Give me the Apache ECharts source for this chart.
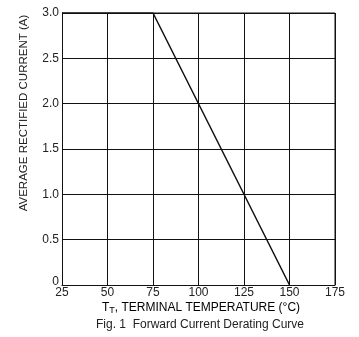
<!DOCTYPE html>
<html><head><meta charset="utf-8">
<script src="https://cdn.jsdelivr.net/npm/echarts@6/dist/echarts.min.js"></script>
<style>html,body{margin:0;padding:0;background:#fff}#c{width:359px;height:337px}</style>
</head><body><div id="c"></div>
<script>
const temperature = [25, 75, 150];
const current = [3.0, 3.0, 0];
const xTicks = [25, 50, 75, 100, 125, 150, 175];
const yTicks = ['0', '0.5', '1.0', '1.5', '2.0', '2.5', '3.0'];

const FONT = 'Liberation Sans';
const chart = echarts.init(document.getElementById('c'));
chart.setOption({
  animation: false,
  grid: { left: 62, right: 24, top: 13, bottom: 52 },
  xAxis: {
    type: 'value', min: 25, max: 175, interval: 25,
    axisLine: { show: true, lineStyle: { color: '#111', width: 1 } },
    axisTick: { show: false },
    axisLabel: { color: '#222', fontFamily: FONT, fontSize: 12, margin: 2,
      formatter: v => xTicks.includes(v) ? String(v) : '' },
    splitLine: { show: true, lineStyle: { color: '#111', width: 1 } }
  },
  yAxis: {
    type: 'value', min: 0, max: 3, interval: 0.5,
    axisLine: { show: true, lineStyle: { color: '#111', width: 1 } },
    axisTick: { show: false },
    axisLabel: { color: '#222', fontFamily: FONT, fontSize: 12, margin: 3,
      formatter: v => { const t = yTicks[Math.round(v * 2)]; return v === 0 ? '{z|' + t + '}' : t; },
      rich: { z: { fontSize: 12, fontFamily: FONT, color: '#222', padding: [0, 0, 7, 0] } } },
    splitLine: { show: true, lineStyle: { color: '#111', width: 1 } }
  },
  series: [{
    type: 'line',
    data: temperature.map((t, i) => [t, current[i]]),
    symbol: 'none',
    lineStyle: { color: '#111', width: 1.5 }
  }],
  graphic: [
    { type: 'line', shape: { x1: 62, y1: 13, x2: 335, y2: 13 }, style: { stroke: '#111', lineWidth: 1 } },
    { type: 'line', shape: { x1: 335, y1: 13, x2: 335, y2: 285 }, style: { stroke: '#111', lineWidth: 1 } },
    { type: 'text', x: 24, y: 113, rotation: Math.PI / 2,
      style: { text: 'AVERAGE RECTIFIED CURRENT (A)', fill: '#222', font: '11.5px "Liberation Sans"', align: 'center', verticalAlign: 'middle' } },
    { type: 'text', x: 201, y: 308,
      style: { text: '{a|T}{s|T}{a|, TERMINAL TEMPERATURE (°C)}', align: 'center', verticalAlign: 'middle',
        rich: { a: { fontSize: 12, fontFamily: FONT, color: '#222' },
                s: { fontSize: 9, fontFamily: FONT, color: '#222', padding: [6, 0, 0, 0] } } } },
    { type: 'text', x: 200, y: 325,
      style: { text: 'Fig. 1  Forward Current Derating Curve', fill: '#222', font: '12px "Liberation Sans"', align: 'center', verticalAlign: 'middle' } }
  ]
});
</script></body></html>
